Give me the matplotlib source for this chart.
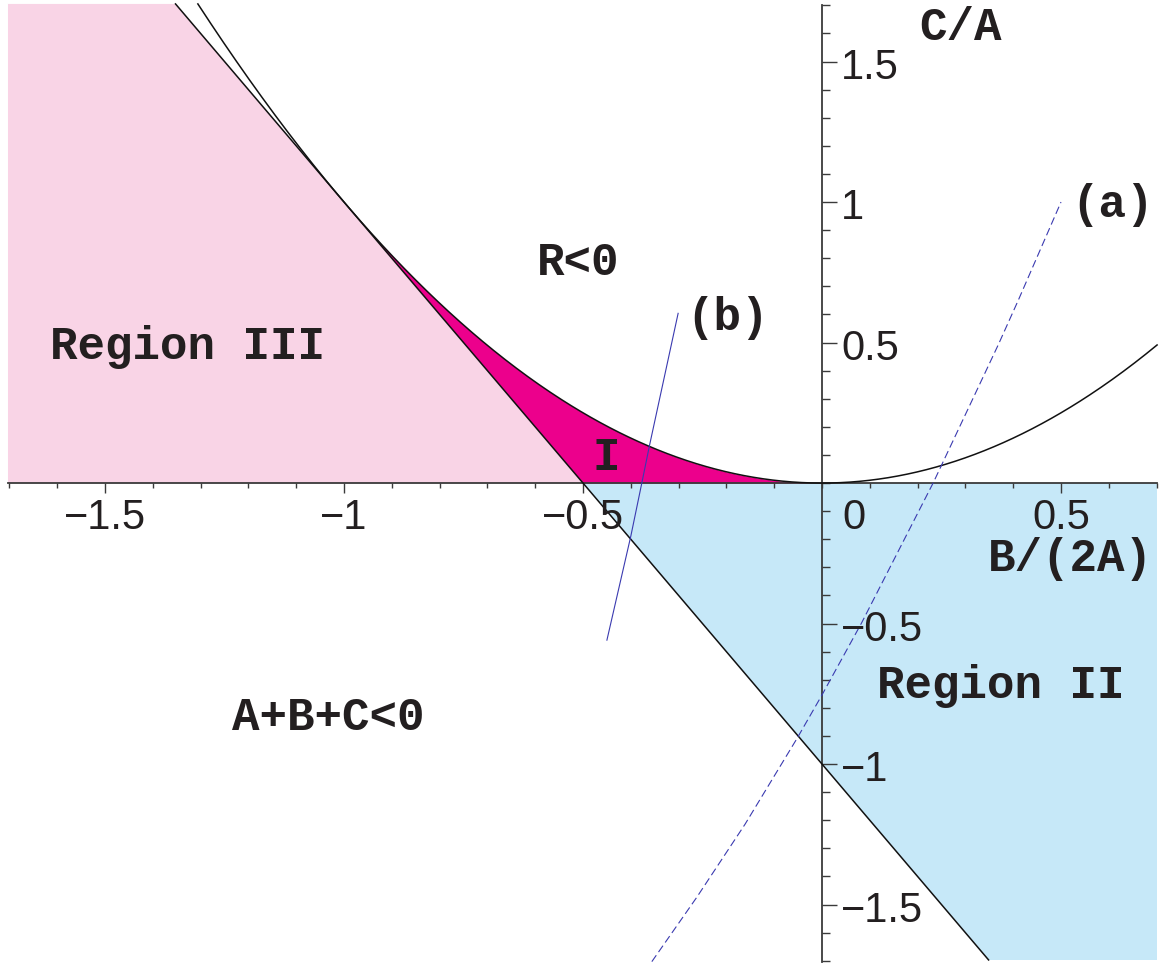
import numpy as np
import matplotlib
matplotlib.use("Agg")
import matplotlib.pyplot as plt
from matplotlib.ticker import FixedLocator

# ---------------- data ----------------
# boundary curves: C/A = (B/2A)^2  (R = 0)  and  C/A = -2 B/(2A) - 1  (A+B+C = 0)
para_coef = 1.0
line_slope, line_icpt = -2.0, -1.0

# curve (a) (dashed)
a_x = [-0.356, -0.262, -0.161, -0.052, 0.0, 0.083, 0.233, 0.369, 0.411, 0.500]
a_y = [-1.703, -1.474, -1.214, -0.908, -0.754, -0.497, 0.002, 0.493, 0.652, 1.000]

# curve (b) (solid thin)
b_x = [-0.450, -0.400, -0.377, -0.361, -0.301]
b_y = [-0.559, -0.189, 0.0, 0.133, 0.604]

x_major = [-1.5, -1.0, -0.5, 0.5]
x_major_labels = ["\u22121.5", "\u22121", "\u22120.5", "0.5"]
y_major = [-1.5, -1.0, -0.5, 0.5, 1.0, 1.5]
y_major_labels = ["\u22121.5", "\u22121", "\u22120.5", "0.5", "1", "1.5"]

# ---------------- figure ----------------
W, H, DPI = 1161, 965, 100
fig = plt.figure(figsize=(W / DPI, H / DPI), dpi=DPI)
ax = fig.add_axes([0, 0, 1, 1])
ax.set_xlim(-1.7197, 0.7092)
ax.set_ylim(-1.715, 1.719)
ax.patch.set_alpha(0)

PINK = "#F9D4E6"
MAGENTA = "#EC008C"
BLUE = "#C6E8F8"
TXT = "#231F20"
LBLUE = "#3A3AB0"

x_left, x_right = -1.703, 0.701
y_top, y_bot = 1.705, -1.697

def line(x):
    return line_slope * np.asarray(x) + line_icpt

def line_inv(y):
    return (y - line_icpt) / line_slope

x0 = line_inv(0.0)

# Region III (pink)
ax.fill([x_left, x_left, line_inv(y_top), x0], [0, y_top, y_top, 0],
        color=PINK, lw=0, zorder=1)
# Region II (blue)
ax.fill([x0, x_right, x_right, line_inv(y_bot)], [0, 0, y_bot, y_bot],
        color=BLUE, lw=0, zorder=1)
# Region I (magenta)
xs = np.linspace(-1.0, 0.0, 400)
ax.fill_between(xs, np.maximum(line(xs), 0.0), para_coef * xs ** 2,
                color=MAGENTA, lw=0, zorder=1)

# boundary curves
xp = np.linspace(-np.sqrt(y_top / para_coef), x_right, 600)
ax.plot(xp, para_coef * xp ** 2, color="#111111", lw=1.1, zorder=3)
ax.plot([line_inv(y_top), line_inv(y_bot)], [y_top, y_bot], color="#111111", lw=1.1, zorder=3)

# curves (a) and (b)
ax.plot(a_x, a_y, color=LBLUE, lw=0.8, ls=(0, (7, 3.5)), zorder=3)
ax.plot(b_x, b_y, color=LBLUE, lw=0.8, zorder=3)

# ---------------- axes through origin ----------------
for s in ["top", "right"]:
    ax.spines[s].set_visible(False)
ax.spines["left"].set_position(("data", 0))
ax.spines["bottom"].set_position(("data", 0))
ax.spines["left"].set_bounds(-1.705, 1.701)
ax.spines["bottom"].set_bounds(x_left, x_right)
AXC = "#3a3a3a"
for s in ["left", "bottom"]:
    ax.spines[s].set_color(AXC)
    ax.spines[s].set_linewidth(1.3)
    ax.spines[s].set_zorder(2.5)

ax.xaxis.set_major_locator(FixedLocator(x_major))
ax.xaxis.set_minor_locator(FixedLocator(np.round(np.arange(-1.7, 0.71, 0.1), 2)))
ax.yaxis.set_major_locator(FixedLocator(y_major))
ax.yaxis.set_minor_locator(FixedLocator(np.round(np.arange(-1.7, 1.71, 0.1), 2)))
ax.tick_params(axis="x", which="major", direction="out", length=7.2, width=1.0, color=AXC,
               labelbottom=False)
ax.tick_params(axis="x", which="minor", direction="out", length=3.6, width=1.0, color=AXC)
ax.tick_params(axis="y", which="major", direction="in", length=10.8, width=1.0, color=AXC,
               labelleft=False)
ax.tick_params(axis="y", which="minor", direction="in", length=5.4, width=1.0, color=AXC)

# tick labels
TF = dict(family=["Liberation Sans", "DejaVu Sans"], fontsize=30, color=TXT)
for v, t in zip(x_major, x_major_labels):
    ax.text(v, -0.165, t, ha="center", va="baseline", **TF)
ax.text(0.066, -0.165, "0", ha="center", va="baseline", **TF)
for v, t in zip(y_major, y_major_labels):
    ax.text(0.040, v - 0.0605, t, ha="left", va="baseline", **TF)

# annotations
MF = dict(family=["Liberation Mono", "DejaVu Sans Mono"], fontsize=33, fontweight="bold",
          color=TXT)
ax.text(0.289, 1.577, "C/A", ha="center", va="baseline", **MF)
ax.text(0.519, -0.312, "B/(2A)", ha="center", va="baseline", **MF)
ax.text(0.607, 0.947, "(a)", ha="center", va="baseline", **MF)
ax.text(-0.197, 0.544, "(b)", ha="center", va="baseline", **MF)
ax.text(-0.510, 0.740, "R<0", ha="center", va="baseline", **MF)
ax.text(-1.328, 0.441, "Region III", ha="center", va="baseline", **MF)
ax.text(-0.452, 0.046, "I", ha="center", va="baseline", **MF)
ax.text(0.374, -0.765, "Region II", ha="center", va="baseline", **MF)
ax.text(-1.033, -0.879, "A+B+C<0", ha="center", va="baseline", **MF)

fig.savefig("out.png", dpi=DPI, facecolor="white")
